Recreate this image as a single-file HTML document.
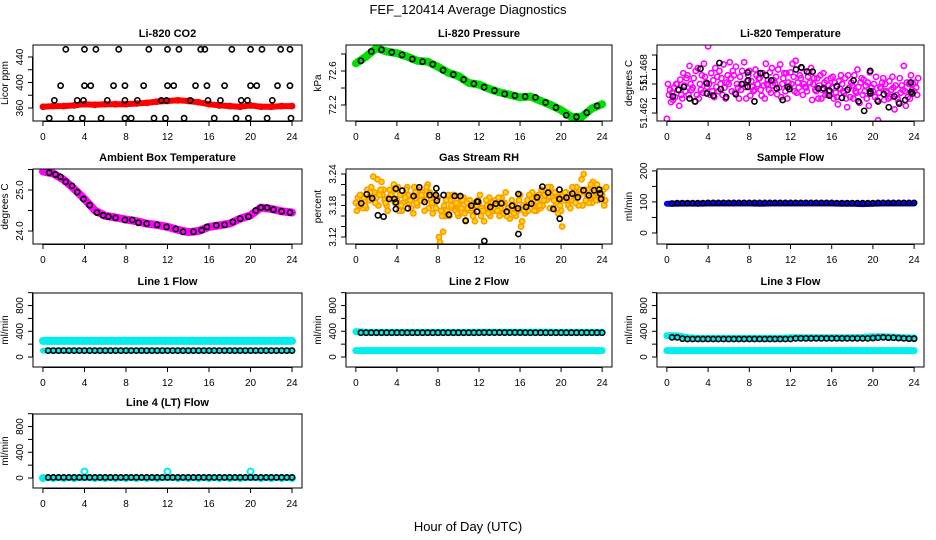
<!DOCTYPE html>
<html><head><meta charset="utf-8"><style>
html,body{margin:0;padding:0;background:#fff;}
svg{display:block;font-family:"Liberation Sans",Arial,sans-serif;}
</style></head><body>
<svg id="chart" width="936" height="540" viewBox="0 0 936 540" xmlns="http://www.w3.org/2000/svg">
<rect width="936" height="540" fill="#fff"/>
<text x="468" y="14" text-anchor="middle" font-size="13">FEF_120414  Average Diagnostics</text>
<text x="468" y="531" text-anchor="middle" font-size="13">Hour of Day (UTC)</text>
</svg>
<script>
// ---------- data ----------
const hourTicks = [0,4,8,12,16,20,24];
const hours = [0,1,2,3,4,5,6,7,8,9,10,11,12,13,14,15,16,17,18,19,20,21,22,23,24];
const halfHours = [0.5,1,1.5,2,2.5,3,3.5,4,4.5,5,5.5,6,6.5,7,7.5,8,8.5,9,9.5,10,10.5,11,11.5,12,12.5,13,13.5,14,14.5,15,15.5,16,16.5,17,17.5,18,18.5,19,19.5,20,20.5,21,21.5,22,22.5,23,23.5,24];
const cloudHours = [0,0.5,1,1.5,2,2.5,3,3.5,4,4.5,5,5.5,6,6.5,7,7.5,8,8.5,9,9.5,10,10.5,11,11.5,12,12.5,13,13.5,14,14.5,15,15.5,16,16.5,17,17.5,18,18.5,19,19.5,20,20.5,21,21.5,22,22.5,23,23.5,24];

// CO2
const co2Red = [362,363,363,364,366,365,366,366,366,367,368,370,371,372,371,369,366,364,363,362,364,362,362,363,363];
const co2BlackX = [2.2,4,5.1,7.3,10.2,12,13.1,15.2,15.6,18.2,20,21.1,22.9,23.8, 1.7,4,4.6,6.8,7.9,9.7,12,12.6,14.7,15.8,17.5,20,20.6,22.6,23.8, 1.1,3.3,3.9,6.2,7.9,9.1,11.4,11.9,14.2,15.9,17.1,19.1,19.7,22.1, 0.6,2.7,3.8,5.6,7.9,8.5,10.7,11.8,13.6,16.5,18.6,19.8,21.6,23.9];
const co2BlackY = [452,452,452,452,452,452,452,452,452,452,452,452,452,452, 395,395,395,395,395,395,395,395,395,395,395,395,395,395,395, 372,372,372,372,372,372,372,372,372,372,372,372,372,372, 344,344,344,344,344,344,344,344,344,344,344,344,344,344];

// Pressure
const presGreen = [72.69,72.77,72.87,72.83,72.81,72.77,72.72,72.71,72.65,72.58,72.54,72.46,72.44,72.39,72.35,72.32,72.29,72.30,72.25,72.20,72.14,72.06,72.06,72.16,72.21];
const presBlackX = [0.5,1.5,2.5,3.5,4.5,5.5,6.5,7.5,8.5,9.5,10.5,11.5,12.5,13.5,14.5,15.5,16.5,17.5,18.5,19.5,20.5,21.5,22.5,23.5];
const presBlack = [72.72,72.83,72.85,72.82,72.79,72.74,72.71,72.68,72.61,72.56,72.50,72.45,72.41,72.37,72.33,72.31,72.30,72.29,72.23,72.17,72.08,72.06,72.11,72.19];

// Li-820 temperature
const tempMagA = [51.4612,51.4648,51.4660,51.4640,51.4672,51.4655,51.4682,51.4648,51.4712,51.4665,51.4650,51.4687,51.4660,51.4672,51.4640,51.4690,51.4678,51.4652,51.4668,51.4640,51.4676,51.4661,51.4687,51.4650,51.4676,51.4692,51.4668,51.4655,51.4682,51.4650,51.4640,51.4665,51.4655,51.4642,51.4660,51.4628,51.4658,51.4680,51.4645,51.4662,51.4650,51.4610,51.4668,51.4640,51.4655,51.4635,51.4685,51.4660,51.4650];
const tempMagB = [51.4660,51.4638,51.4652,51.4675,51.4645,51.4668,51.4640,51.4688,51.4660,51.4642,51.4678,51.4655,51.4690,51.4648,51.4670,51.4656,51.4644,51.4680,51.4652,51.4688,51.4648,51.4670,51.4642,51.4675,51.4660,51.4648,51.4682,51.4650,51.4638,51.4668,51.4652,51.4645,51.4670,51.4632,51.4650,51.4672,51.4640,51.4656,51.4666,51.4630,51.4660,51.4648,51.4638,51.4664,51.4625,51.4668,51.4650,51.4640,51.4662];
const tempMagC = [51.4645,51.4655,51.4630,51.4658,51.4685,51.4636,51.4660,51.4670,51.4645,51.4682,51.4660,51.4640,51.4668,51.4684,51.4652,51.4640,51.4664,51.4672,51.4644,51.4660,51.4682,51.4646,51.4660,51.4640,51.4688,51.4662,51.4645,51.4670,51.4660,51.4640,51.4675,51.4658,51.4640,51.4664,51.4648,51.4655,51.4672,51.4634,51.4650,51.4676,51.4642,51.4656,51.4660,51.4642,51.4658,51.4648,51.4630,51.4672,51.4655];
const tempMagD = [51.4652,51.4642,51.4666,51.4650,51.4660,51.4678,51.4652,51.4662,51.4675,51.4656,51.4668,51.4662,51.4650,51.4660,51.4678,51.4664,51.4656,51.4660,51.4675,51.4665,51.4658,51.4680,51.4668,51.4662,51.4670,51.4655,51.4660,51.4676,51.4668,51.4658,51.4662,51.4650,51.4662,51.4654,51.4668,51.4642,51.4650,51.4662,51.4658,51.4648,51.4670,51.4654,51.4650,51.4652,51.4645,51.4658,51.4662,51.4652,51.4645];
const tempMagE = [51.4635,51.4660,51.4645,51.4668,51.4652,51.4645,51.4672,51.4656,51.4650,51.4670,51.4645,51.4672,51.4678,51.4655,51.4660,51.4672,51.4650,51.4668,51.4658,51.4652,51.4665,51.4655,51.4675,51.4656,51.4650,51.4672,51.4656,51.4662,51.4652,51.4672,51.4645,51.4668,51.4648,51.4672,51.4640,51.4662,51.4648,51.4668,51.4640,51.4655,51.4638,51.4662,51.4648,51.4670,51.4640,51.4652,51.4642,51.4660,51.4668];
const tempBlackX = [0.58,1.13,1.65,2.2,2.75,3.26,3.88,3.88,4.52,5.1,5.23,5.75,6.69,7.27,7.85,7.88,7.85,8.5,9.08,9.63,10.14,10.66,11.24,11.72,11.89,12.53,13.05,13.6,14.15,14.7,15.21,15.76,15.76,16.5,16.99,17.54,18.12,18.6,19.15,19.74,19.74,19.74,20.5,21.06,21.54,22.06,22.55,23.13,23.68,23.71,23.84];
const tempBlack = [51.4643,51.4652,51.4656,51.4640,51.4636,51.4681,51.4661,51.4647,51.4644,51.4689,51.4653,51.4642,51.4646,51.4660,51.4656,51.4665,51.4676,51.4636,51.4675,51.4672,51.4665,51.4654,51.4638,51.4656,51.4653,51.4680,51.4683,51.4677,51.4677,51.4654,51.4654,51.4651,51.4644,51.4657,51.4641,51.4652,51.4665,51.4636,51.4623,51.4678,51.4650,51.4647,51.4636,51.4646,51.4628,51.4643,51.4633,51.4638,51.4662,51.4649,51.4647];

// Ambient box temperature
const ambMag = [25.45,25.40,25.25,25.03,24.78,24.50,24.37,24.33,24.28,24.24,24.18,24.15,24.10,24.03,23.97,24.00,24.10,24.14,24.18,24.30,24.38,24.57,24.54,24.48,24.45];
const ambBlackX = [0.6,1.2,1.7,2.2,2.8,3.3,3.9,4.5,5.2,5.8,6.3,7,7.9,8.6,9.2,10,11,11.9,12.8,13.5,14.5,15.3,15.8,16.7,17.5,18.3,19,19.8,20.5,21,21.6,22.2,23,23.8];
const ambBlack = [25.42,25.38,25.32,25.2,25.1,24.95,24.78,24.63,24.45,24.38,24.35,24.32,24.27,24.27,24.2,24.18,24.15,24.1,24.05,23.98,23.98,24.02,24.1,24.14,24.15,24.22,24.3,24.35,24.5,24.57,24.57,24.52,24.48,24.45];

// Gas stream RH
const rhOrangeA = [3.185,3.200,3.175,3.215,3.195,3.225,3.180,3.205,3.190,3.170,3.215,3.195,3.180,3.205,3.220,3.165,3.195,3.130,3.200,3.175,3.160,3.195,3.180,3.165,3.185,3.150,3.195,3.170,3.160,3.185,3.155,3.180,3.200,3.165,3.185,3.195,3.175,3.200,3.215,3.185,3.170,3.205,3.190,3.215,3.230,3.200,3.185,3.220,3.200];
const rhOrangeB = [3.170,3.185,3.210,3.190,3.230,3.200,3.170,3.195,3.215,3.185,3.200,3.165,3.210,3.190,3.175,3.200,3.120,3.180,3.160,3.200,3.180,3.165,3.190,3.150,3.200,3.175,3.160,3.190,3.175,3.205,3.170,3.160,3.140,3.180,3.195,3.170,3.210,3.190,3.175,3.200,3.140,3.190,3.215,3.195,3.180,3.210,3.225,3.190,3.210];
const rhOrangeC = [3.195,3.175,3.195,3.235,3.180,3.210,3.195,3.220,3.170,3.200,3.185,3.215,3.195,3.170,3.205,3.185,3.110,3.160,3.190,3.170,3.195,3.150,3.170,3.185,3.160,3.190,3.170,3.180,3.195,3.160,3.190,3.175,3.150,3.190,3.205,3.185,3.180,3.215,3.195,3.165,3.200,3.180,3.200,3.180,3.240,3.185,3.200,3.210,3.180];
const rhOrangeD = [3.180,3.195,3.190,3.205,3.200,3.190,3.210,3.185,3.200,3.195,3.190,3.205,3.190,3.200,3.190,3.175,3.170,3.190,3.180,3.185,3.175,3.185,3.175,3.180,3.175,3.180,3.185,3.170,3.185,3.175,3.180,3.170,3.180,3.170,3.180,3.200,3.190,3.205,3.190,3.195,3.190,3.195,3.205,3.200,3.210,3.195,3.205,3.195,3.190];
const rhOrangeE = [3.200,3.180,3.205,3.185,3.210,3.185,3.200,3.210,3.180,3.210,3.175,3.185,3.200,3.215,3.185,3.195,3.160,3.170,3.200,3.165,3.190,3.175,3.160,3.190,3.170,3.165,3.175,3.195,3.165,3.175,3.165,3.190,3.170,3.200,3.170,3.180,3.200,3.175,3.205,3.180,3.205,3.175,3.185,3.210,3.190,3.220,3.190,3.200,3.215];
const rhBlackX = [0.52,1.07,1.59,2.15,2.7,3.25,3.77,3.9,3.9,3.9,4.52,5.07,5.63,6.18,6.7,7.19,7.8,7.84,7.9,8.55,9.07,9.63,10.18,10.7,11.25,11.8,11.8,11.9,13.1,13.63,14.18,14.7,15.22,15.8,15.84,15.84,16.59,17.1,17.66,18.18,18.73,19.25,19.84,19.84,19.87,20.52,21.1,21.63,22.18,22.7,23.22,23.71,23.8,23.9,12.52];
const rhBlack = [3.1841,3.2013,3.1937,3.1613,3.1587,3.1924,3.1924,3.1860,3.1733,3.2121,3.2083,3.1746,3.1981,3.2146,3.1867,3.2000,3.2000,3.2127,3.1892,3.2000,3.1625,3.1981,3.1981,3.1511,3.1797,3.1873,3.1683,3.1873,3.1771,3.1835,3.1841,3.1683,3.1797,3.1746,3.2019,3.1257,3.1771,3.1835,3.1956,3.2159,3.2045,3.1733,3.2102,3.1924,3.1549,3.1949,3.2025,3.1956,3.2089,3.1994,3.2089,3.2102,3.2032,3.1924,3.1124];

// Sample flow
const sampleBlue = [94,94,95,94,95,95,95,95,95,94,95,95,95,95,95,95,95,94,94,93,94,95,95,95,95];
const sampleBlack = [95,96,96,96,96,96,96,97,97,97,97,97,97,97,97,97,97,97,97,97,97,97,97,97,97,97,97,97,97,97,97,97,96,96,96,96,96,96,96,96,97,97,97,97,97,97,97,97];

// Line flows
const line1CyanHigh = [250,250,250,250,250,250,250,250,250,250,250,250,250,250,250,250,250,250,250,250,250,250,250,250,250];
const line1CyanLow = [100,100,100,100,100,100,100,100,100,100,100,100,100,100,100,100,100,100,100,100,100,100,100,100,100];
const line1Black = [100,100,100,100,100,100,100,100,100,100,100,100,100,100,100,100,100,100,100,100,100,100,100,100,100,100,100,100,100,100,100,100,100,100,100,100,100,100,100,100,100,100,100,100,100,100,100,100];
const line2CyanHigh = [395,385,382,382,382,382,382,382,382,382,382,382,385,385,385,385,385,385,385,385,382,382,382,382,382];
const line2CyanLow = [100,100,100,100,100,100,100,100,100,100,100,100,100,100,100,100,100,100,100,100,100,100,100,100,100];
const line2Black = [378,378,378,378,378,378,378,378,378,378,378,378,378,378,378,378,378,378,378,378,378,378,378,378,380,380,380,380,380,380,380,380,378,378,378,378,378,378,378,378,378,378,378,378,378,378,378,378];
const line3CyanHigh = [330,330,300,290,290,290,290,290,290,290,290,290,300,300,300,300,300,300,300,305,315,315,310,300,295];
const line3CyanLow = [100,100,100,100,100,100,100,100,100,100,100,100,100,100,100,100,100,100,100,100,100,100,100,100,100];
const line3Black = [305,305,285,280,280,280,280,280,280,280,280,280,280,280,280,280,280,280,280,280,280,280,280,280,290,290,290,290,290,290,290,290,290,290,290,290,290,290,290,295,300,305,300,300,295,290,285,285];
const line4CyanHigh = [0,0,0,0,100,0,0,0,0,0,0,0,100,0,0,0,0,0,0,0,100,0,0,0,0];
const line4Black = [10,10,10,10,10,10,10,10,10,10,10,10,10,10,10,10,10,10,10,10,10,10,10,10,10,10,10,10,10,10,10,10,10,10,10,10,10,10,10,10,10,10,10,10,10,10,10,10];

// Axis ticks
const co2Ticks = [360,380,400,420,440];
const co2Labels = ["360","","400","","440"];
const presTicks = [72.2,72.4,72.6,72.8];
const presLabels = ["72.2","","72.6",""];
const tempTicks = [51.462,51.464,51.466,51.468,51.470];
const tempLabels = ["51.462","","51.","51.468",""];
const ambTicks = [24.0,24.5,25.0,25.5];
const ambLabels = ["24.0","","25.0",""];
const rhTicks = [3.12,3.14,3.16,3.18,3.20,3.22,3.24];
const rhLabels = ["3.12","","","3.18","","","3.24"];
const sampTicks = [0,50,100,150,200];
const sampLabels = ["0","","100","","200"];
const flowTicks = [0,200,400,600,800,1000];
const flowLabels = ["0","","400","","800",""];

// ---------- drawing ----------
const NS = "http://www.w3.org/2000/svg";
const svg = document.getElementById('chart');
const COLS = [[33,302],[346,612],[657,924]];
const ROWS = [[45,121],[169,244],[293,367],[414,488]];

function mk(tag, parent, attrs){
  const e = document.createElementNS(NS, tag);
  for (const k in attrs) e.setAttribute(k, attrs[k]);
  parent.appendChild(e);
  return e;
}

function makePanel(col,row,ymin,ymax,title,ylab,ticks,labels,name){
  const L=COLS[col][0], R=COLS[col][1], T=ROWS[row][0], B=ROWS[row][1];
  const g = mk('g', svg, {});
  
  
  const p = {g:g,L:L,R:R,T:T,B:B,
    sx: x => L + (x + 0.96) / 25.92 * (R - L),
    sy: y => B - (y - ymin) / (ymax - ymin) * (B - T)};
  const clip = mk('clipPath', g, {id:'clip-'+name});
  mk('rect', clip, {x:L, y:T, width:R-L, height:B-T});
  p.data = mk('g', g, {'clip-path':'url(#clip-'+name+')'});
  
  
  const box = mk('rect', g, {x:L, y:T, width:R-L, height:B-T, fill:'none', stroke:'#000', 'stroke-width':1});
  
  
  const t = mk('text', g, {x:(L+R)/2, y:T-8, 'text-anchor':'middle', 'font-size':11, 'font-weight':'bold'});
  t.textContent = title;
  
  
  const xa = mk('g', g, {});
  
  
  mk('line', xa, {x1:p.sx(0), x2:p.sx(24), y1:B+0.5, y2:B+0.5, stroke:'#000'});
  hourTicks.forEach(h => {
    mk('line', xa, {x1:p.sx(h), x2:p.sx(h), y1:B, y2:B+5, stroke:'#000'});
    const lt = mk('text', xa, {x:p.sx(h), y:B+19, 'text-anchor':'middle', 'font-size':10});
    lt.textContent = h;
  });
  const ya = mk('g', g, {});
  
  
  mk('line', ya, {x1:L-0.5, x2:L-0.5, y1:p.sy(ticks[0]), y2:p.sy(ticks[ticks.length-1]), stroke:'#000'});
  ticks.forEach((v,i) => {
    const y = p.sy(v);
    mk('line', ya, {x1:L-5, x2:L, y1:y, y2:y, stroke:'#000'});
    if (labels[i]) {
      const lt = mk('text', ya, {x:L-10, y:y, 'text-anchor':'middle', 'font-size':10,
        transform:'rotate(-90 '+(L-10)+' '+y+')'});
      lt.textContent = labels[i];
    }
  });
  const yt = mk('text', g, {x:L-25, y:(T+B)/2, 'text-anchor':'middle', 'font-size':10,
    transform:'rotate(-90 '+(L-25)+' '+((T+B)/2)+')'});
  yt.textContent = ylab;
  
  
  return p;
}

function band(p, xs, ys, color, width, name){
  const pts = xs.map((x,i) => p.sx(x).toFixed(1)+','+p.sy(ys[i]).toFixed(1)).join(' ');
  const pl = mk('polyline', p.data, {points:pts, fill:'none', stroke:color, 'stroke-width':width, 'stroke-linejoin':'round', 'stroke-linecap':'round'});
  
  
}
function dots(p, xs, ys, color, name, fill, r, sw){
  const grp = mk('g', p.data, {});
  
  
  xs.forEach((x,i) => {
    mk('circle', grp, {cx:p.sx(x), cy:p.sy(ys[i]), r:r||2.6, fill:fill||'none', stroke:color, 'stroke-width':sw||1.6});
  });
}

// CO2
let p = makePanel(0,0,339.6,458.8,'Li-820 CO2','Licor ppm',co2Ticks,co2Labels,'co2');
band(p, hours, co2Red, '#ff0000', 6, 'co2-red-series');
dots(p, hours, co2Red, '#ff0000', 'co2-red-points');
dots(p, co2BlackX, co2BlackY, '#000', 'co2-black-points');

// Pressure
p = makePanel(1,0,72.012,72.906,'Li-820 Pressure','kPa',presTicks,presLabels,'pressure');
band(p, hours, presGreen, '#00dd00', 8, 'pressure-green-series');
dots(p, presBlackX, presBlack, '#000', 'pressure-black-points');

// Temperature
p = makePanel(2,0,51.4609,51.47138,'Li-820 Temperature','degrees C',tempTicks,tempLabels,'li820-temp');
dots(p, cloudHours, tempMagA, '#ff00ff', 'temp-magenta-points-a');
dots(p, cloudHours.map(h=>h+0.1), tempMagB, '#ff00ff', 'temp-magenta-points-b');
dots(p, cloudHours.map(h=>h+0.2), tempMagC, '#ff00ff', 'temp-magenta-points-c');
dots(p, cloudHours.map(h=>h+0.3), tempMagD, '#ff00ff', 'temp-magenta-points-d');
dots(p, cloudHours.map(h=>h+0.4), tempMagE, '#ff00ff', 'temp-magenta-points-e');
dots(p, tempBlackX, tempBlack, '#000', 'temp-black-points');

// Ambient
p = makePanel(0,1,23.683,25.512,'Ambient Box Temperature','degrees C',ambTicks,ambLabels,'ambient-temp');
band(p, hours, ambMag, '#ff00ff', 8, 'ambient-magenta-series');
dots(p, ambBlackX, ambBlack, '#000', 'ambient-black-points');

// RH
p = makePanel(1,1,3.1067,3.2495,'Gas Stream RH','percent',rhTicks,rhLabels,'rh');
dots(p, cloudHours, rhOrangeA, '#ff9900', 'rh-orange-points-a', '#ffdd00');
dots(p, cloudHours.map(h=>h+0.1), rhOrangeB, '#ff9900', 'rh-orange-points-b', '#ffdd00');
dots(p, cloudHours.map(h=>h+0.2), rhOrangeC, '#ff9900', 'rh-orange-points-c', '#ffdd00');
dots(p, cloudHours.map(h=>h+0.3), rhOrangeD, '#ff9900', 'rh-orange-points-d', '#ffdd00');
dots(p, cloudHours.map(h=>h+0.4), rhOrangeE, '#ff9900', 'rh-orange-points-e', '#ffdd00');
dots(p, rhBlackX, rhBlack, '#000', 'rh-black-points');

// Sample flow
p = makePanel(2,1,-35.5,206,'Sample Flow','ml/min',sampTicks,sampLabels,'sample-flow');
band(p, hours, sampleBlue, '#0000ff', 6, 'sample-blue-series');
dots(p, halfHours, sampleBlack, '#000', 'sample-black-points');

// Line 1
p = makePanel(0,2,-155,995,'Line 1 Flow','ml/min',flowTicks,flowLabels,'line1');
band(p, hours, line1CyanHigh, '#00eeee', 8, 'line1-cyan-high');
band(p, hours, line1CyanLow, '#00eeee', 6, 'line1-cyan-low');
dots(p, halfHours, line1Black, '#000', 'line1-black-points');

// Line 2
p = makePanel(1,2,-155,995,'Line 2 Flow','ml/min',flowTicks,flowLabels,'line2');
band(p, hours, line2CyanHigh, '#00eeee', 7, 'line2-cyan-high');
band(p, hours, line2CyanLow, '#00eeee', 7, 'line2-cyan-low');
dots(p, halfHours, line2Black, '#000', 'line2-black-points');

// Line 3
p = makePanel(2,2,-155,995,'Line 3 Flow','ml/min',flowTicks,flowLabels,'line3');
band(p, hours, line3CyanHigh, '#00eeee', 7, 'line3-cyan-high');
band(p, hours, line3CyanLow, '#00eeee', 7, 'line3-cyan-low');
dots(p, halfHours, line3Black, '#000', 'line3-black-points');

// Line 4
p = makePanel(0,3,-155,995,'Line 4 (LT) Flow','ml/min',flowTicks,flowLabels,'line4');
dots(p, hours, line4CyanHigh, '#00eeee', 'line4-cyan-points', 'none', 3, 2);
band(p, hours.filter((h,i)=>line4CyanHigh[i]===0), line4CyanHigh.filter(v=>v===0), '#00eeee', 6, 'line4-cyan-base');
dots(p, halfHours, line4Black, '#000', 'line4-black-points');
</script>
</body></html>
